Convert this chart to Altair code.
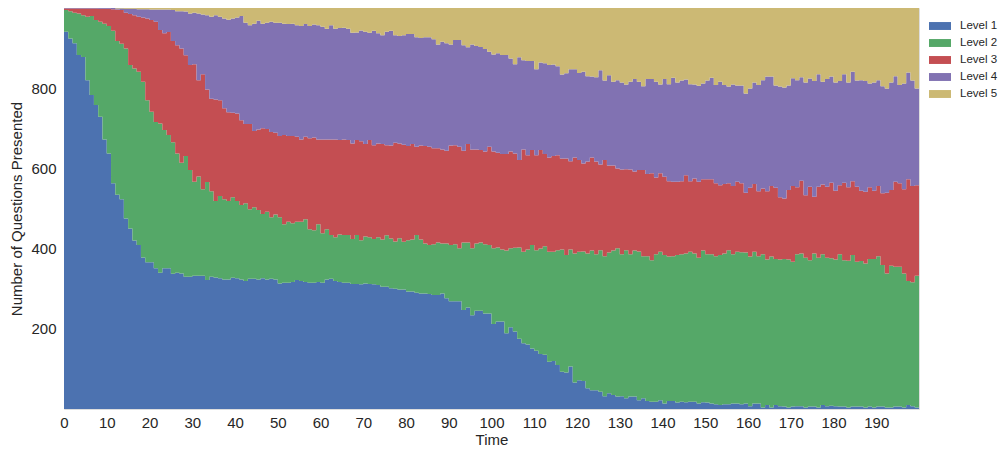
import altair as alt
import pandas as pd

# Cumulative upper edge of each level (stack tops), t = 0..199
level1_top = [
    941, 924, 912, 883, 878, 820, 783, 758, 729, 672, 637, 563, 534, 523, 475, 450, 420, 409, 378, 366, 366, 351, 340, 351, 351,
    337, 340, 338, 330, 330, 332, 332, 332, 322, 330, 328, 326, 323, 323, 327, 326, 323, 319, 325, 325, 323, 326, 323, 325, 323,
    313, 315, 315, 317, 322, 319, 317, 315, 315, 317, 315, 323, 325, 319, 317, 315, 315, 312, 312, 311, 313, 312, 311, 309,
    305, 305, 301, 300, 298, 298, 293, 293, 290, 288, 288, 287, 284, 284, 288, 276, 269, 269, 269, 247, 253, 234, 245, 245, 238,
    238, 212, 218, 218, 189, 204, 193, 175, 164, 161, 151, 145, 137, 135, 118, 120, 110, 93, 91, 106, 66, 72, 70, 52,
    47, 47, 43, 32, 39, 35, 31, 32, 27, 31, 31, 22, 27, 20, 18, 18, 22, 14, 20, 20, 16, 18, 17, 18, 18,
    14, 17, 16, 14, 12, 10, 12, 12, 14, 14, 12, 14, 7, 14, 14, 4, 10, 4, 10, 7, 6, 4, 6, 7, 7,
    4, 6, 6, 4, 10, 7, 8, 7, 6, 6, 4, 6, 6, 6, 4, 6, 4, 6, 6, 4, 4, 6, 6, 4, 10, 7, 4,
]
level2_top = [
    995, 992, 988, 986, 982, 978, 980, 970, 966, 961, 955, 943, 918, 911, 899, 858, 849, 841, 816, 770, 741, 716, 712, 696, 683,
    665, 637, 614, 631, 596, 567, 580, 548, 566, 543, 519, 531, 523, 519, 528, 519, 509, 513, 498, 503, 496, 486, 492, 478, 485,
    478, 461, 467, 463, 467, 467, 473, 448, 446, 461, 438, 448, 434, 428, 435, 434, 434, 424, 434, 421, 430, 428, 424, 428,
    423, 433, 425, 418, 426, 417, 421, 423, 434, 423, 413, 409, 411, 415, 413, 413, 409, 411, 401, 415, 415, 401, 413, 415, 411,
    409, 401, 403, 398, 395, 401, 402, 403, 392, 398, 409, 396, 400, 406, 392, 392, 396, 398, 384, 398, 388, 392, 393, 388,
    395, 386, 396, 381, 390, 395, 401, 386, 396, 386, 395, 393, 381, 381, 371, 386, 392, 384, 380, 381, 384, 386, 388, 392, 388,
    377, 395, 386, 386, 381, 384, 388, 396, 386, 392, 391, 390, 380, 392, 381, 386, 373, 380, 374, 373, 374, 373, 367, 386, 388,
    377, 371, 388, 377, 386, 377, 376, 373, 386, 371, 370, 384, 367, 369, 363, 374, 374, 381, 359, 338, 357, 355, 355, 338, 319, 316, 332,
]
level3_top = [
    999, 999, 999, 999, 999, 999, 999, 999, 998, 998, 998, 997,
    996, 995, 988, 985, 982, 978, 976, 974, 970, 966, 945, 937, 940,
    918, 907, 899, 882, 858, 860, 820, 835, 797, 774, 772, 770, 750, 740, 739, 737, 720, 711, 711, 693, 697, 700, 698, 691, 689,
    681, 683, 681, 681, 679, 672, 679, 675, 677, 672, 672, 672, 672, 672, 671, 672, 671, 662, 671, 668, 661, 671, 658, 662,
    661, 658, 657, 664, 662, 659, 656, 661, 654, 657, 656, 654, 650, 650, 647, 644, 657, 658, 654, 644, 661, 647, 647, 646, 642,
    654, 642, 639, 636, 636, 642, 637, 621, 647, 633, 646, 633, 646, 636, 627, 631, 633, 625, 625, 618, 627, 621, 612, 617,
    627, 617, 610, 621, 607, 607, 600, 597, 598, 597, 592, 596, 596, 586, 588, 577, 588, 579, 568, 567, 567, 568, 583, 568, 575,
    567, 573, 573, 573, 563, 558, 561, 563, 556, 567, 563, 539, 552, 561, 543, 550, 543, 556, 552, 528, 525, 546, 556, 553, 569,
    533, 554, 529, 554, 560, 554, 564, 544, 558, 564, 553, 568, 554, 544, 542, 553, 544, 556, 538, 539, 546, 567, 563, 548, 573, 556, 558,
]
level4_top = [
    1000, 1000, 1000, 1000, 1000, 1000, 1000, 1000, 1000, 1000, 1000, 1000,
    999, 999, 998, 998, 998, 997, 997, 997, 996, 996, 996, 996,
    996, 995, 992, 992, 991, 986, 988, 986, 984, 982, 978, 982, 978, 974, 971, 974, 976, 980, 963, 957, 961, 968, 961, 963, 966, 963,
    963, 961, 960, 961, 957, 955, 960, 955, 959, 957, 953, 948, 957, 948, 950, 951, 948, 938, 939, 944, 941, 938, 943, 937,
    932, 941, 943, 932, 930, 932, 935, 935, 927, 925, 927, 927, 922, 909, 916, 912, 909, 920, 920, 907, 902, 909, 905, 903, 898,
    891, 884, 887, 883, 883, 874, 860, 877, 870, 868, 868, 847, 864, 862, 858, 859, 855, 834, 837, 847, 847, 838, 841, 830,
    829, 827, 845, 819, 832, 816, 820, 814, 809, 816, 823, 816, 805, 823, 823, 816, 809, 823, 810, 826, 814, 819, 822, 810, 809,
    806, 812, 819, 826, 808, 816, 808, 804, 809, 807, 807, 787, 799, 814, 808, 820, 829, 829, 807, 804, 802, 807, 825, 820, 827,
    814, 824, 818, 835, 816, 823, 829, 814, 818, 835, 814, 841, 819, 820, 818, 812, 814, 820, 805, 799, 814, 830, 808, 812, 839, 819, 799,
]
total = 1000
levels = ["Level 1", "Level 2", "Level 3", "Level 4", "Level 5"]
colors = ["#4C72B0", "#55A868", "#C44E52", "#8172B2", "#CCB974"]
x_ticks = list(range(0, 200, 10))
y_ticks = [200, 400, 600, 800]

tops = [level1_top, level2_top, level3_top, level4_top, [total] * len(level1_top)]
rows = []
n = len(level1_top)
for t in range(n + 1):
    i = min(t, n - 1)  # final edge at t=200 closes the last step
    prev = 0
    for k, lev in enumerate(levels):
        rows.append({"Time": t, "Level": lev, "order": k, "Count": tops[k][i] - prev})
        prev = tops[k][i]
df = pd.DataFrame(rows)

sym = "M-1,-0.36 L1,-0.36 L1,0.36 L-1,0.36 Z"

chart = alt.Chart(df).mark_area(interpolate="step-after").encode(
    x=alt.X("Time:Q", title="Time",
            scale=alt.Scale(domain=[0, 200], nice=False, zero=False),
            axis=alt.Axis(values=x_ticks, ticks=False, domain=False, grid=False,
                          labelPadding=6, titlePadding=2, labelFlush=False)),
    y=alt.Y("Count:Q", stack="zero", title="Number of Questions Presented",
            scale=alt.Scale(domain=[0, total], nice=False),
            axis=alt.Axis(values=y_ticks, ticks=False, domain=False, grid=False,
                          labelPadding=8, titlePadding=6)),
    color=alt.Color("Level:N", scale=alt.Scale(domain=levels, range=colors),
                    legend=alt.Legend(title=None, orient="none", legendX=865, legendY=7,
                                      symbolType=sym, symbolSize=484, symbolStrokeWidth=0,
                                      symbolOpacity=1, labelOffset=9, rowPadding=-2,
                                      padding=0, labelFontSize=11.5, labelColor="#262626",
                                      labelFont="Liberation Sans")),
    order=alt.Order("order:Q"),
).properties(
    width=855, height=401,
    autosize=alt.AutoSizeParams(type="none"),
    padding={"left": 56, "top": 0, "right": 80, "bottom": 40},
    background="white",
).configure_view(
    stroke="#dddddd", strokeWidth=1
).configure_axis(
    labelFont="Liberation Sans", titleFont="Liberation Sans",
    labelFontSize=15, titleFontSize=15, labelColor="#262626", titleColor="#262626",
    titleFontWeight="normal"
)

chart.save("out.html", embed_options={"renderer": "svg", "actions": False})
